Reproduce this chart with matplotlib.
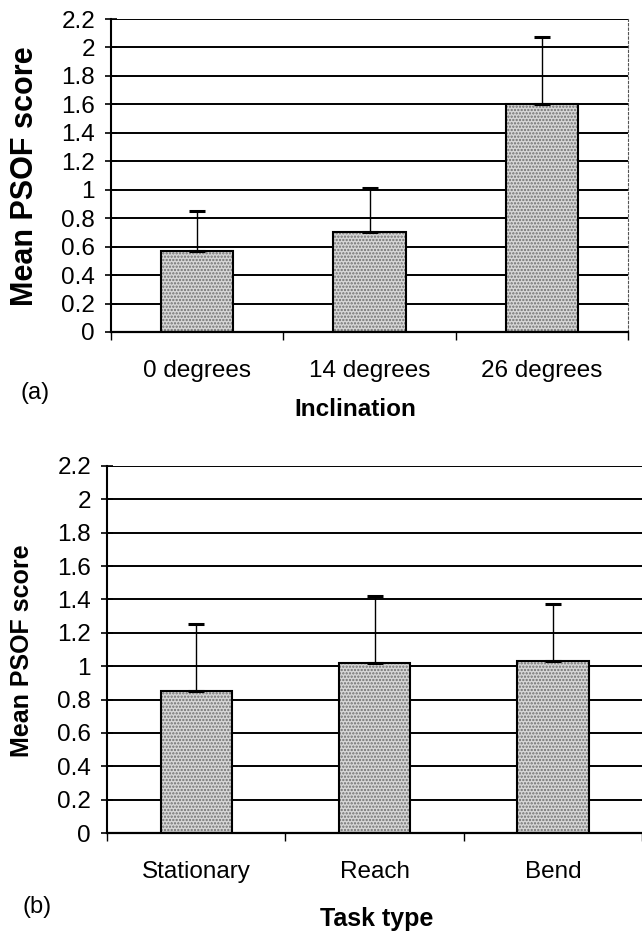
import matplotlib
matplotlib.use("Agg")
import matplotlib.pyplot as plt
import numpy as np

plt.rcParams['font.family'] = ['Liberation Sans', 'DejaVu Sans']
plt.rcParams['hatch.linewidth'] = 1.1

# ---- data ----
inclination_cats = ["0 degrees", "14 degrees", "26 degrees"]
inclination_means = [0.57, 0.70, 1.60]
inclination_upper = [0.85, 1.01, 2.07]   # top of error bar

task_cats = ["Stationary", "Reach", "Bend"]
task_means = [0.85, 1.02, 1.03]
task_upper = [1.25, 1.42, 1.37]

ytick_vals = [0, 0.2, 0.4, 0.6, 0.8, 1.0, 1.2, 1.4, 1.6, 1.8, 2.0, 2.2]
ytick_labels = ["0", "0.2", "0.4", "0.6", "0.8", "1", "1.2", "1.4", "1.6", "1.8", "2", "2.2"]

W, H = 642, 935
fig = plt.figure(figsize=(W / 100, H / 100), dpi=100)


def px_axes(left, top, right, bottom):
    return fig.add_axes([left / W, (H - bottom) / H, (right - left) / W, (bottom - top) / H])


def draw_panel(ax, cats, means, upper, width, xmax, tick_fs):
    x = np.arange(len(cats))
    ax.set_xlim(-0.5, xmax)
    ax.set_ylim(0, 2.2)
    ax.set_yticks(ytick_vals)
    ax.set_yticklabels(ytick_labels, fontsize=tick_fs)
    for v in ytick_vals[1:]:
        ax.axhline(v, color='black', lw=1.4, zorder=1)
    # stippled fill
    ax.bar(x, means, width=width, color='#d6d6d6', edgecolor='#6e6e6e',
           linewidth=0, hatch='.....', zorder=2)
    # outline
    ax.bar(x, means, width=width, fill=False, edgecolor='black', linewidth=1.5, zorder=3)
    err = np.array(upper) - np.array(means)
    ax.errorbar(x, means, yerr=[np.zeros(len(x)), err], fmt='none', ecolor='black',
                elinewidth=1.0, capsize=5.5, capthick=2.2, zorder=4)
    ax.set_xticks(x)
    ax.set_xticklabels(cats, fontsize=tick_fs)
    ax.set_xticks(np.arange(len(cats) + 1) - 0.5, minor=True)
    ax.tick_params(axis='x', which='major', length=0, pad=20)
    ax.tick_params(axis='x', which='minor', length=6, width=1.0, direction='out')
    ax.tick_params(axis='y', which='major', length=9, width=1.2, direction='inout', pad=7)
    ax.spines['top'].set_visible(False)
    ax.spines['left'].set_linewidth(1.5)
    ax.spines['bottom'].set_linewidth(1.6)
    ax.spines['right'].set_linewidth(0.8)
    ax.spines['right'].set_linestyle((0, (2, 2)))
    ax.spines['right'].set_color('#555555')


ax1 = px_axes(111, 19, 628, 332)
draw_panel(ax1, inclination_cats, inclination_means, inclination_upper, 0.42, 2.5, 17.5)

ax2 = px_axes(107, 466, 642, 833)
draw_panel(ax2, task_cats, task_means, task_upper, 0.40, 2.462, 17.5)
ax2.spines['right'].set_visible(False)

# labels
fig.text(25 / W, 1 - 176 / H, "Mean PSOF score", rotation=90, fontsize=22,
         fontweight='bold', ha='center', va='center')
fig.text(22 / W, 1 - 651 / H, "Mean PSOF score", rotation=90, fontsize=18,
         fontweight='bold', ha='center', va='center')
fig.text(355 / W, 1 - 409 / H, "Inclination", fontsize=17.5, fontweight='bold',
         ha='center', va='center')
fig.text(377 / W, 1 - 919 / H, "Task type", fontsize=18, fontweight='bold',
         ha='center', va='center')
fig.text(35 / W, 1 - 393 / H, "(a)", fontsize=17, ha='center', va='center')
fig.text(37 / W, 1 - 907 / H, "(b)", fontsize=17, ha='center', va='center')

fig.savefig("out.png", dpi=100)
